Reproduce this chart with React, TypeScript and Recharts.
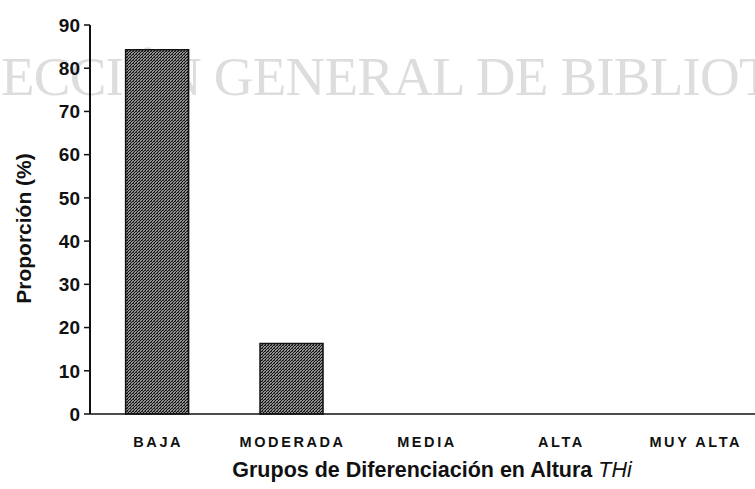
import React from "react";
import { BarChart, Bar, XAxis, YAxis } from "recharts";

const categories = ["BAJA", "MODERADA", "MEDIA", "ALTA", "MUY ALTA"];
const proportion = [84.3, 16.3, 0, 0, 0];
const yTicks = [0, 10, 20, 30, 40, 50, 60, 70, 80, 90];

const data = categories.map((c, i) => ({ name: c, value: proportion[i] }));

const FONT = "'Liberation Sans', Arial, sans-serif";

const XTick = (props: any) => {
  const { x, y, payload } = props;
  return (
    <text
      x={x + 1}
      y={y}
      dy={25}
      textAnchor="middle"
      fontFamily={FONT}
      fontWeight="bold"
      fontSize={14.5}
      letterSpacing={2.6}
      fill="#111"
    >
      {payload.value}
    </text>
  );
};

const YLabel = (props: any) => {
  const vb = props.viewBox || {};
  const cx = 23;
  const cy = vb.y + vb.height / 2 + 9;
  return (
    <text
      x={cx}
      y={cy}
      transform={`rotate(-90, ${cx}, ${cy})`}
      textAnchor="middle"
      dominantBaseline="central"
      fontFamily={FONT}
      fontWeight="bold"
      fontSize={21}
      fill="#111"
    >
      Proporción (%)
    </text>
  );
};

const XLabel = (props: any) => {
  const vb = props.viewBox || {};
  const cx = 432;
  const cy = vb.y + 63;
  return (
    <text
      x={cx}
      y={cy}
      textAnchor="middle"
      fontFamily={FONT}
      fontSize={21.5}
      fill="#111"
    >
      <tspan fontWeight="bold">Grupos de Diferenciación en Altura </tspan>
      <tspan fontStyle="italic" fontWeight="normal">THi</tspan>
    </text>
  );
};

export default function App() {
  return (
    <div
      style={{
        position: "absolute",
        left: 0,
        top: 0,
        width: 755,
        height: 489,
        overflow: "hidden",
        background: "#fff",
      }}
    >
      <svg
        width={755}
        height={489}
        style={{ position: "absolute", left: 0, top: 0 }}
      >
        <text
          x={1}
          y={95}
          fontFamily="'Liberation Serif', 'Times New Roman', serif"
          fontSize={55}
          letterSpacing={-0.8}
          fill="#dddddd"
        >
          ECCIÓN GENERAL DE BIBLIOTECAS
        </text>
      </svg>
      <div style={{ position: "absolute", left: 0, top: 0 }}>
        <BarChart
          width={770}
          height={489}
          data={data}
          margin={{ top: 25, right: 8, left: 0, bottom: 0 }}
          barCategoryGap="26.5%"
        >
          <defs>
            <pattern
              id="stipple"
              width={3}
              height={3}
              patternUnits="userSpaceOnUse"
            >
              <rect width={3} height={3} fill="#8f8f8f" />
              <rect x={0} y={0} width={1} height={1} fill="#111" />
              <rect x={2} y={1} width={1} height={1} fill="#111" />
              <rect x={1} y={2} width={1} height={1} fill="#111" />
              <rect x={1} y={0} width={1} height={1} fill="#3a3a3a" />
            </pattern>
          </defs>
          <XAxis
            dataKey="name"
            height={75}
            tickLine={false}
            axisLine={{ stroke: "#111", strokeWidth: 1.5 }}
            tick={<XTick />}
            interval={0}
            label={<XLabel />}
          />
          <YAxis
            width={90}
            domain={[0, 90]}
            ticks={yTicks}
            interval={0}
            tickSize={6}
            tickMargin={4}
            axisLine={{ stroke: "#111", strokeWidth: 2 }}
            tickLine={{ stroke: "#111", strokeWidth: 1.5 }}
            tick={{
              fill: "#111",
              fontFamily: FONT,
              fontWeight: "bold",
              fontSize: 19,
            }}
            label={<YLabel />}
          />
          <Bar
            dataKey="value"
            fill="url(#stipple)"
            stroke="#111"
            strokeWidth={1.5}
            isAnimationActive={false}
          />
        </BarChart>
      </div>
    </div>
  );
}
